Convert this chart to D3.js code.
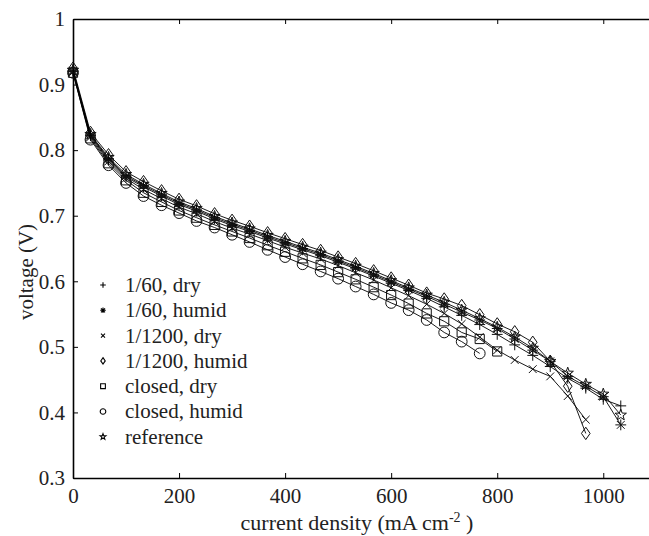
<!DOCTYPE html>
<html>
<head>
<meta charset="utf-8">
<script src="https://cdn.jsdelivr.net/npm/d3@7"></script>
<style>
  body { margin: 0; background: #fff; }
  svg { display: block; }
</style>
</head>
<body>
<svg id="chart"></svg>
<script>
// current density grid (mA cm-2), shared by all runs
const currentDensity = [0, 33, 67, 100, 133, 167, 200, 233, 267, 300, 333, 367, 400, 433, 467, 500,
  533, 567, 600, 633, 667, 700, 733, 767, 800, 833, 867, 900, 933, 967, 1000, 1033];

// voltages (V)
const v60Dry = [0.920, 0.822, 0.785, 0.759, 0.744, 0.730, 0.717, 0.707, 0.695, 0.685, 0.676, 0.666, 0.657, 0.648, 0.639, 0.629,
  0.619, 0.608, 0.597, 0.586, 0.574, 0.561, 0.548, 0.534, 0.519, 0.503, 0.487, 0.470, 0.452, 0.437, 0.420, 0.410];
const v60Humid = [0.921, 0.823, 0.787, 0.761, 0.746, 0.732, 0.719, 0.709, 0.697, 0.687, 0.678, 0.668, 0.659, 0.650, 0.641, 0.631,
  0.621, 0.610, 0.599, 0.588, 0.577, 0.565, 0.553, 0.541, 0.528, 0.512, 0.495, 0.478, 0.455, 0.440, 0.424, 0.381];
const v1200Dry = [0.919, 0.820, 0.783, 0.757, 0.740, 0.726, 0.713, 0.703, 0.691, 0.681, 0.672, 0.662, 0.652, 0.643, 0.634, 0.624,
  0.613, 0.602, 0.590, 0.578, 0.565, 0.551, 0.535, 0.515, 0.495, 0.480, 0.466, 0.455, 0.425, 0.389];
const v1200Humid = [0.925, 0.827, 0.793, 0.767, 0.752, 0.738, 0.725, 0.715, 0.703, 0.693, 0.684, 0.674, 0.665, 0.656, 0.647, 0.637,
  0.627, 0.616, 0.605, 0.594, 0.582, 0.573, 0.563, 0.549, 0.535, 0.523, 0.507, 0.478, 0.440, 0.368];
const vClosedDry = [0.918, 0.818, 0.780, 0.754, 0.735, 0.721, 0.708, 0.697, 0.686, 0.676, 0.666, 0.655, 0.645, 0.635, 0.625, 0.614,
  0.603, 0.591, 0.579, 0.566, 0.551, 0.539, 0.522, 0.512, 0.493];
const vClosedHumid = [0.918, 0.816, 0.777, 0.750, 0.730, 0.716, 0.704, 0.692, 0.682, 0.671, 0.660, 0.648, 0.637, 0.626, 0.615, 0.604,
  0.592, 0.580, 0.567, 0.556, 0.541, 0.522, 0.508, 0.490];
const vReference = [0.922, 0.824, 0.789, 0.763, 0.748, 0.734, 0.721, 0.711, 0.699, 0.689, 0.680, 0.670, 0.661, 0.652, 0.643, 0.633,
  0.623, 0.612, 0.601, 0.590, 0.579, 0.568, 0.556, 0.543, 0.530, 0.515, 0.498, 0.478, 0.460, 0.443, 0.428, 0.396];

const seriesNames = ['1/60, dry', '1/60, humid', '1/1200, dry', '1/1200, humid', 'closed, dry', 'closed, humid', 'reference'];
const seriesMarkers = ['plus', 'asterisk', 'times', 'diamond', 'square', 'circle', 'star'];
const seriesValues = [v60Dry, v60Humid, v1200Dry, v1200Humid, vClosedDry, vClosedHumid, vReference];

const xTicks = [0, 200, 400, 600, 800, 1000];
const yTicks = [0.3, 0.4, 0.5, 0.6, 0.7, 0.8, 0.9, 1];

const width = 649;
const height = 536;
const margin = { top: 19, right: -2, bottom: 58, left: 73 };
const serif = '"Liberation Serif", "Times New Roman", Times, serif';

const svg = d3.select('#chart').attr('width', width).attr('height', height);

const x = d3.scaleLinear().domain([0, 1090]).range([margin.left, width - margin.right]);
const y = d3.scaleLinear().domain([0.3, 1]).range([height - margin.bottom, margin.top]);

// marker shapes, centred on 0,0
const markerPath = (type, r) => {
  const p = d3.path();
  const d = r * 0.72;
  if (type === 'plus' || type === 'asterisk') {
    p.moveTo(-r, 0); p.lineTo(r, 0);
    p.moveTo(0, -r); p.lineTo(0, r);
  }
  if (type === 'times' || type === 'asterisk') {
    p.moveTo(-d, -d); p.lineTo(d, d);
    p.moveTo(-d, d); p.lineTo(d, -d);
  }
  if (type === 'diamond') {
    p.moveTo(0, -r * 1.15); p.lineTo(r * 0.8, 0); p.lineTo(0, r * 1.15); p.lineTo(-r * 0.8, 0); p.closePath();
  }
  if (type === 'square') {
    p.rect(-r * 0.85, -r * 0.85, r * 1.7, r * 1.7);
  }
  if (type === 'circle') {
    p.moveTo(r, 0); p.arc(0, 0, r, 0, 2 * Math.PI);
  }
  if (type === 'star') {
    for (let k = 0; k < 10; k++) {
      const a = -Math.PI / 2 + k * Math.PI / 5;
      const rr = k % 2 === 0 ? r * 1.1 : r * 0.45;
      if (k === 0) p.moveTo(rr * Math.cos(a), rr * Math.sin(a));
      else p.lineTo(rr * Math.cos(a), rr * Math.sin(a));
    }
    p.closePath();
  }
  return p.toString();
};

// Axes
const xAxis = d3.axisBottom(x).tickValues(xTicks).tickSize(-5).tickSizeOuter(0).tickPadding(10)
  .tickFormat(d3.format('d'));
const gx = svg.append('g').attr('transform', `translate(0,${y(0.3)})`).call(xAxis);

const gxTop = svg.append('g').attr('transform', `translate(0,${y(1)})`)
  .call(d3.axisTop(x).tickValues(xTicks).tickSize(-5).tickSizeOuter(0).tickFormat(''));

const yAxis = d3.axisLeft(y).tickValues(yTicks).tickSize(-5).tickSizeOuter(0).tickPadding(8)
  .tickFormat(d => (d === 1 ? '1' : d3.format('.1f')(d)));
const gy = svg.append('g').attr('transform', `translate(${x(0)},0)`).call(yAxis);

[gx, gxTop, gy].forEach(g => {
  g.attr('font-family', serif).attr('font-size', 21);
  g.select('.domain').attr('stroke', '#000').attr('stroke-width', 1.6);
  g.selectAll('.tick line').attr('stroke', '#000').attr('stroke-width', 1);
  g.selectAll('text').attr('fill', '#222').style('font-family', serif).style('font-size', '21px');
});

// Series
const line = d3.line().x(d => x(d[0])).y(d => y(d[1]));

seriesValues.forEach((vals, i) => {
  const pts = vals.map((v, j) => [currentDensity[j], v]);
  const g = svg.append('g');
  g.append('path')
    .attr('d', line(pts))
    .attr('fill', 'none')
    .attr('stroke', '#000')
    .attr('stroke-width', 0.9);
  g.selectAll('.mk')
    .data(pts)
    .enter()
    .append('path')
    .attr('class', 'mk')
    .attr('transform', d => `translate(${x(d[0])},${y(d[1])})`)
    .attr('d', markerPath(seriesMarkers[i], 5.4))
    .attr('fill', 'none')
    .attr('stroke', '#111')
    .attr('stroke-width', 1);
});

// Legend
const legend = svg.append('g').attr('transform', 'translate(103,285)');
seriesNames.forEach((name, i) => {
  const row = legend.append('g').attr('transform', `translate(0,${i * 25.3})`);
  row.append('path')
    .attr('d', markerPath(seriesMarkers[i], 2.8))
    .attr('fill', 'none')
    .attr('stroke', '#000')
    .attr('stroke-width', 1.1);
  row.append('text')
    .attr('x', 22)
    .attr('dy', '0.33em')
    .attr('fill', '#222')
    .style('font-family', serif)
    .style('font-size', '21px')
    .text(name);
});

// Axis labels
const xl = svg.append('text')
  .attr('x', 357)
  .attr('y', 530)
  .attr('text-anchor', 'middle')
  .attr('fill', '#222')
  .style('font-family', serif)
  .style('font-size', '22px');
xl.append('tspan').text('current density (mA cm');
xl.append('tspan').attr('dy', -8).style('font-size', '14px').text('-2');
xl.append('tspan').attr('dy', 8).text(' )');

svg.append('text')
  .attr('transform', 'translate(33,272) rotate(-90)')
  .attr('text-anchor', 'middle')
  .attr('fill', '#222')
  .style('font-family', serif)
  .style('font-size', '21px')
  .text('voltage (V)');
</script>
</body>
</html>
